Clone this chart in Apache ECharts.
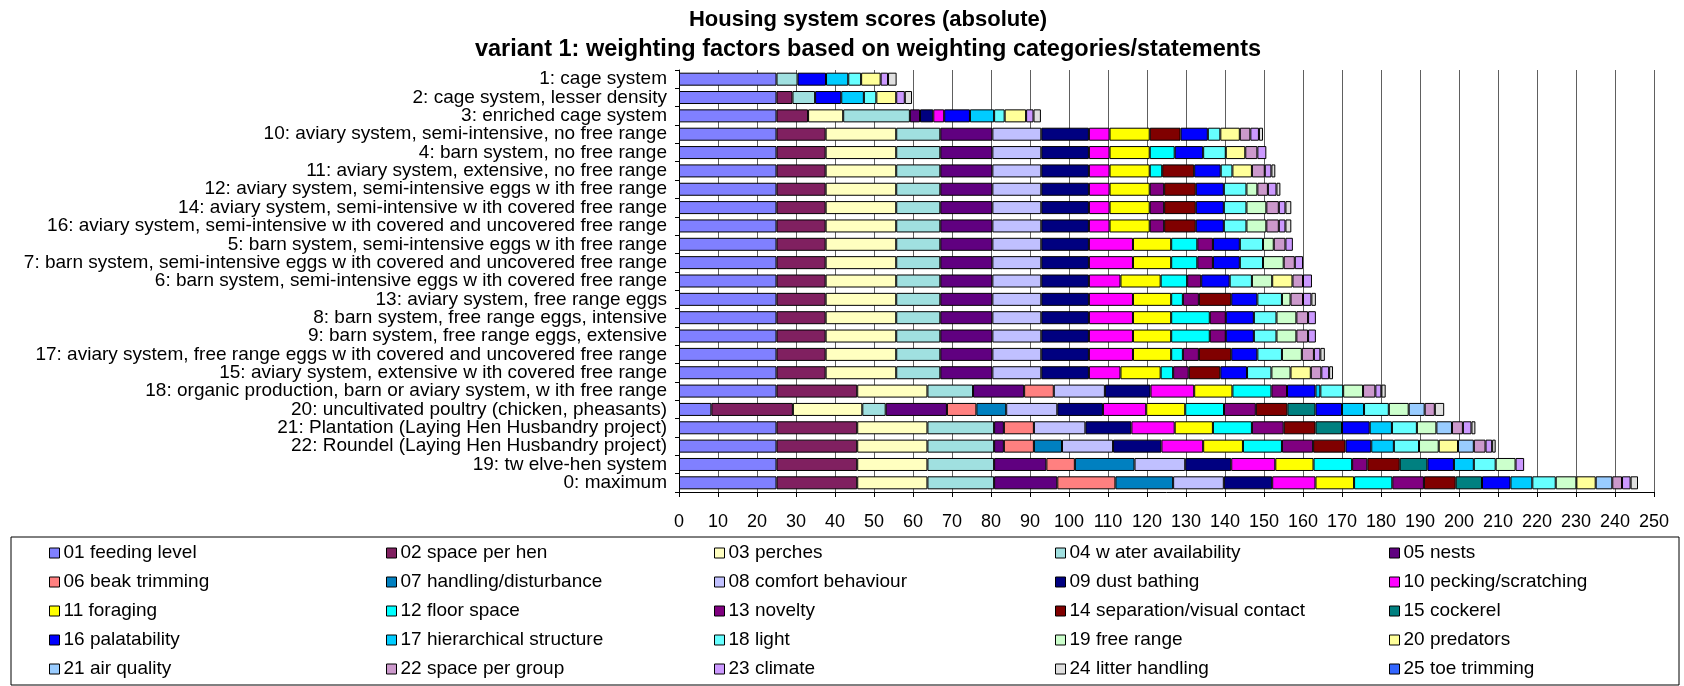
<!DOCTYPE html>
<html><head><meta charset="utf-8">
<script src="https://cdn.jsdelivr.net/npm/echarts@6/dist/echarts.min.js"></script>
<style>html,body{margin:0;padding:0;background:#fff}#c{width:1684px;height:686px}</style>
</head><body><div id="c"></div>
<script>
const titleLine1 = 'Housing system scores (absolute)';
const titleLine2 = 'variant 1: weighting factors based on weighting categories/statements';
const categories = [
  '1: cage system',
  '2: cage system, lesser density',
  '3: enriched cage system',
  '10: aviary system, semi-intensive, no free range',
  '4: barn system, no free range',
  '11: aviary system, extensive, no free range',
  '12: aviary system, semi-intensive eggs w ith free range',
  '14: aviary system, semi-intensive w ith covered free range',
  '16: aviary system, semi-intensive w ith covered and uncovered free range',
  '5: barn system, semi-intensive eggs w ith free range',
  '7: barn system, semi-intensive eggs w ith covered and uncovered free range',
  '6: barn system, semi-intensive eggs w ith covered free range',
  '13: aviary system, free range eggs',
  '8: barn system, free range eggs, intensive',
  '9: barn system, free range eggs, extensive',
  '17: aviary system, free range eggs w ith covered and uncovered free range',
  '15: aviary system, extensive w ith covered free range',
  '18: organic production, barn or aviary system, w ith free range',
  '20: uncultivated poultry (chicken, pheasants)',
  '21: Plantation (Laying Hen Husbandry project)',
  '22: Roundel (Laying Hen Husbandry project)',
  '19: tw elve-hen system',
  '0: maximum'
];
const seriesNames = [
  '01 feeding level','02 space per hen','03 perches','04 w ater availability','05 nests',
  '06 beak trimming','07 handling/disturbance','08 comfort behaviour','09 dust bathing','10 pecking/scratching',
  '11 foraging','12 floor space','13 novelty','14 separation/visual contact','15 cockerel',
  '16 palatability','17 hierarchical structure','18 light','19 free range','20 predators',
  '21 air quality','22 space per group','23 climate','24 litter handling','25 toe trimming'
];
const colors = [
  '#8080FF','#802060','#FFFFC0','#A0E0E0','#600080',
  '#FF8080','#0080C0','#C0C0FF','#000080','#FF00FF',
  '#FFFF00','#00FFFF','#800080','#800000','#008080',
  '#0000FF','#00CCFF','#66FFFF','#CCFFCC','#FFFF99',
  '#99CCFF','#CC99CC','#CC99FF','#E0E0E0','#3366FF'
];
const xTicks = {min: 0, max: 250, interval: 10};

const s01 = [25,25,25,25,25,25,25,25,25,25,25,25,25,25,25,25,25,25,8.3,25,25,25,25];
const s02 = [0,4.1,8.1,12.6,12.6,12.6,12.6,12.6,12.6,12.6,12.6,12.6,12.6,12.6,12.6,12.6,12.6,20.7,20.9,20.7,20.7,20.7,20.7];
const s03 = [0,0,9.0,18.1,18.1,18.1,18.1,18.1,18.1,18.1,18.1,18.1,18.1,18.1,18.1,18.1,18.1,18.0,17.8,18.0,18.0,18.0,18.0];
const s04 = [5.4,5.8,17.1,11.3,11.3,11.3,11.3,11.3,11.3,11.3,11.3,11.3,11.3,11.3,11.3,11.3,11.3,11.7,6.0,17.1,17.1,17.1,17.1];
const s05 = [0,0,2.6,13.35,13.35,13.35,13.35,13.35,13.35,13.35,13.35,13.35,13.35,13.35,13.35,13.35,13.35,13.1,15.7,2.5,2.5,13.4,16.2];
const s06 = [0,0,0,0,0,0,0,0,0,0,0,0,0,0,0,0,0,7.6,7.55,7.7,7.7,7.3,14.9];
const s07 = [0,0,0,0,0,0,0,0,0,0,0,0,0,0,0,0,0,0,7.65,0,7.2,15.3,14.8];
const s08 = [0,0,0,12.55,12.55,12.55,12.55,12.55,12.55,12.55,12.55,12.55,12.55,12.55,12.55,12.55,12.55,13.1,13.1,13.2,13.1,13.0,13.0];
const s09 = [0,0,3.4,12.2,12.2,12.2,12.2,12.2,12.2,12.2,12.2,12.2,12.2,12.2,12.2,12.2,12.2,11.7,11.7,11.8,12.4,11.8,12.4];
const s10 = [0,0,2.8,5.3,5.3,5.3,5.3,5.3,5.3,11.3,11.3,8.1,11.3,11.3,11.3,11.3,8.1,11.2,11.1,11.1,10.7,11.3,11.1];
const s11 = [0,0,0,10.3,10.3,10.3,10.3,10.3,10.3,9.8,9.8,10.3,9.8,9.8,9.8,9.8,10.3,9.8,10.0,9.8,10.2,9.8,9.9];
const s12 = [0,0,0,0,6.4,3.2,0,0,0,6.7,6.7,6.8,3.0,9.9,9.9,3.0,3.2,10.0,9.95,10.0,10.0,9.9,9.8];
const s13 = [0,0,0,0,0,0,3.7,3.7,3.7,4.0,4.0,3.6,4.1,4.1,4.1,4.1,4.0,4.0,8.15,8.15,8.0,3.9,8.1];
const s14 = [0,0,0,7.9,0,8.2,8.1,8.1,8.1,0,0,0,8.3,0,0,8.3,8.1,0,8.1,8.15,8.3,8.3,8.15];
const s15 = [0,0,0,0,0,0,0,0,0,0,0,0,0,0,0,0,0,0,7.2,6.8,0,7.1,6.75];
const s16 = [7.3,6.7,6.6,7.0,7.3,6.8,7.2,7.2,7.2,6.9,6.9,7.3,6.7,7.2,7.2,6.7,6.85,7.3,6.8,7.1,6.6,6.8,7.3];
const s17 = [5.7,5.8,6.2,0,0,0,0,0,0,0,0,0,0,0,0,0,0,1.25,5.65,5.7,5.8,5.1,5.6];
const s18 = [3.3,3.2,2.7,3.2,5.8,3.0,5.8,5.8,5.8,5.95,5.95,5.7,6.3,5.8,5.8,6.3,6.25,5.85,6.35,6.4,6.45,5.6,6.0];
const s19 = [0,0,0,0,0,0,2.8,5.1,5.1,2.75,5.3,5.2,2.2,5.1,5.1,5.1,4.9,5.1,5.1,5.0,5.05,5.1,5.3];
const s20 = [5.0,5.1,5.5,5.0,5.0,5.0,0,0,0,0,0,5.2,0,0,0,0,5.2,0,0,0,4.95,0,4.95];
const s21 = [0,0,0,0,0,0,0,0,0,0,0,0,0,0,0,0,0,0,4.1,4.0,4.05,0,4.25];
const s22 = [0,0,0,2.7,3.1,3.3,2.7,3.2,3.2,3.0,2.85,2.7,3.2,3.0,3.0,3.1,2.7,3.15,2.6,2.8,3.0,0,2.5];
const s23 = [1.9,2.2,1.9,2.2,2.3,1.7,2.2,1.7,1.7,1.9,2.1,2.3,2.15,2.0,2.0,1.65,2.0,1.55,0,2.2,1.7,2.2,2.2];
const s24 = [2.2,1.85,1.9,1.05,0,1.0,1.0,1.5,1.5,0,0,0,1.15,0,0,1.15,1.0,1.1,2.4,1.0,0.9,0,1.9];
const s25 = [0,0,0,0,0,0,0,0,0,0,0,0,0,0,0,0,0,0,0,0,0,0,0];

const allData = [s01,s02,s03,s04,s05,s06,s07,s08,s09,s10,s11,s12,s13,s14,s15,s16,s17,s18,s19,s20,s21,s22,s23,s24,s25];
const FONT = '"Liberation Sans", Arial, sans-serif';

const series = allData.map((d, i) => ({
  name: seriesNames[i],
  type: 'bar',
  stack: 'total',
  barWidth: 13,
  data: d.map(v => v === 0 ? '-' : v),
  itemStyle: {color: colors[i], borderColor: '#000', borderWidth: 1},
  emphasis: {disabled: true}
}));

const legendCols = [49, 386, 714, 1055, 1389];
const legends = legendCols.map((x, c) => ({
  orient: 'vertical',
  left: x,
  top: 543,
  padding: 0,
  itemGap: 9,
  itemWidth: 10,
  itemHeight: 10,
  icon: 'rect',
  selectedMode: false,
  itemStyle: {borderColor: '#000', borderWidth: 1},
  textStyle: {fontFamily: FONT, fontSize: 19, color: '#000', lineHeight: 20, padding: [0,0,0,-1]},
  data: seriesNames.filter((_, k) => k % 5 === c)
}));

const chart = echarts.init(document.getElementById('c'), null, {renderer: 'canvas'});
chart.setOption({
  animation: false,
  backgroundColor: '#fff',
  grid: {left: 679, right: 30, top: 70, bottom: 194, containLabel: false},
  xAxis: {
    type: 'value', min: xTicks.min, max: xTicks.max, interval: xTicks.interval,
    axisLine: {show: true, lineStyle: {color: '#000', width: 1}},
    axisTick: {show: true, length: 5, lineStyle: {color: '#000'}},
    axisLabel: {fontFamily: FONT, fontSize: 18, color: '#000', margin: 21},
    splitLine: {show: true, lineStyle: {color: '#606060', width: 1}}
  },
  yAxis: {
    type: 'category', data: categories, inverse: true,
    axisLine: {show: true, lineStyle: {color: '#000', width: 1}},
    axisTick: {show: true, length: 4, lineStyle: {color: '#000'}},
    axisLabel: {fontFamily: FONT, fontSize: 19, color: '#000', margin: 12, interval: 0},
    splitLine: {show: false}
  },
  legend: legends,
  graphic: [
    {type: 'text', x: 868, y: 20, style: {text: titleLine1, textAlign: 'center', textVerticalAlign: 'middle', font: 'bold 22px ' + FONT, fill: '#000'}},
    {type: 'text', x: 868, y: 50, style: {text: titleLine2, textAlign: 'center', textVerticalAlign: 'middle', font: 'bold 23.5px ' + FONT, fill: '#000'}},
    {type: 'rect', shape: {x: 11, y: 537, width: 1668, height: 148}, style: {fill: 'none', stroke: '#000', lineWidth: 1}, z: -1}
  ],
  series: series
});
</script>
</body></html>
